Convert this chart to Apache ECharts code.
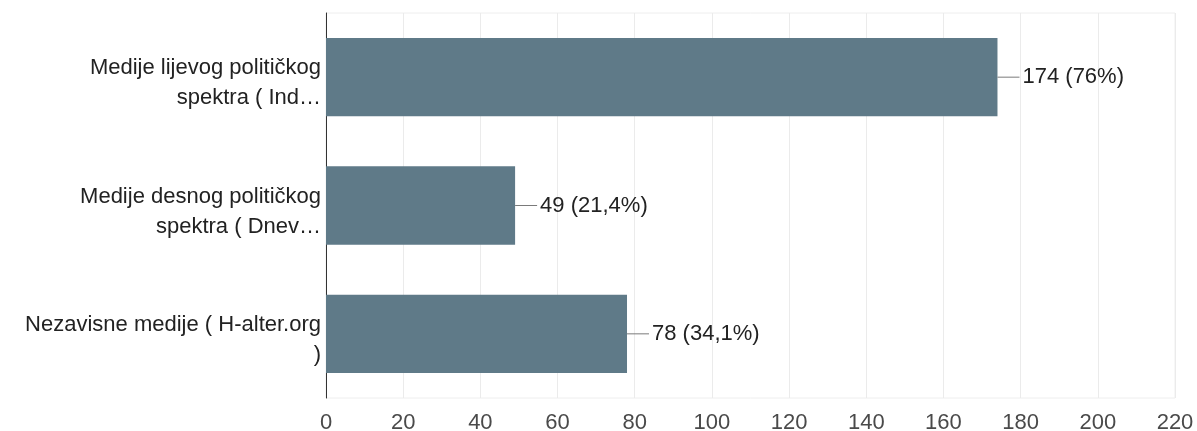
<!DOCTYPE html>
<html>
<head>
<meta charset="utf-8">
<script src="https://cdn.jsdelivr.net/npm/echarts@6/dist/echarts.min.js"></script>
<style>
html,body{margin:0;padding:0;background:#fff;}
#chart{width:1197px;height:431px;}
</style>
</head>
<body>
<div id="chart"></div>
<script>
const categories = [
  'Medije lijevog političkog\nspektra ( Ind…',
  'Medije desnog političkog\nspektra ( Dnev…',
  'Nezavisne medije ( H-alter.org\n)'
];
const values = [174, 49, 78];
const percents = ['76%', '21,4%', '34,1%'];
const xTicks = { min: 0, max: 220, interval: 20 };

const chart = echarts.init(document.getElementById('chart'), null, { renderer: 'canvas' });
chart.setOption({
  animation: false,
  backgroundColor: '#fff',
  grid: { left: 326, right: 22, top: 13, bottom: 33, containLabel: false, outerBoundsMode: 'none', show: true, borderColor: '#eeeeee', borderWidth: 1 },
  xAxis: {
    type: 'value',
    min: xTicks.min, max: xTicks.max, interval: xTicks.interval,
    axisLine: { show: false },
    axisTick: { show: false },
    splitLine: { show: true, lineStyle: { color: '#ebebeb', width: 1 } },
    axisLabel: { color: '#4a4a4a', fontSize: 22, fontFamily: 'Liberation Sans, Arial, sans-serif', margin: 14 }
  },
  yAxis: {
    type: 'category',
    inverse: true,
    data: categories,
    axisLine: { show: true, lineStyle: { color: '#333', width: 1 } },
    axisTick: { show: false },
    axisLabel: {
      margin: 5, align: 'right',
      formatter: function (v) {
        return '{s|}\n' + v.split('\n').map(function (t) { return '{a|' + t + '}'; }).join('\n');
      },
      rich: {
        s: { lineHeight: 12, fontSize: 1 },
        a: { color: '#222', fontSize: 22, lineHeight: 30, fontFamily: 'Liberation Sans, Arial, sans-serif', align: 'right' }
      }
    }
  },
  series: [{
    type: 'bar',
    data: values,
    barCategoryGap: '39%',
    itemStyle: { color: '#5f7a88' },
    label: {
      show: true,
      position: 'right',
      distance: 0,
      formatter: function (p) { return '{l|}{t|' + values[p.dataIndex] + ' (' + percents[p.dataIndex] + ')}'; },
      rich: {
        l: { width: 22, height: 1, backgroundColor: '#7a7a7a' },
        t: { color: '#222', fontSize: 22, fontFamily: 'Liberation Sans, Arial, sans-serif', padding: [0, 0, 0, 3] }
      }
    }
  }]
});
</script>
</body>
</html>
